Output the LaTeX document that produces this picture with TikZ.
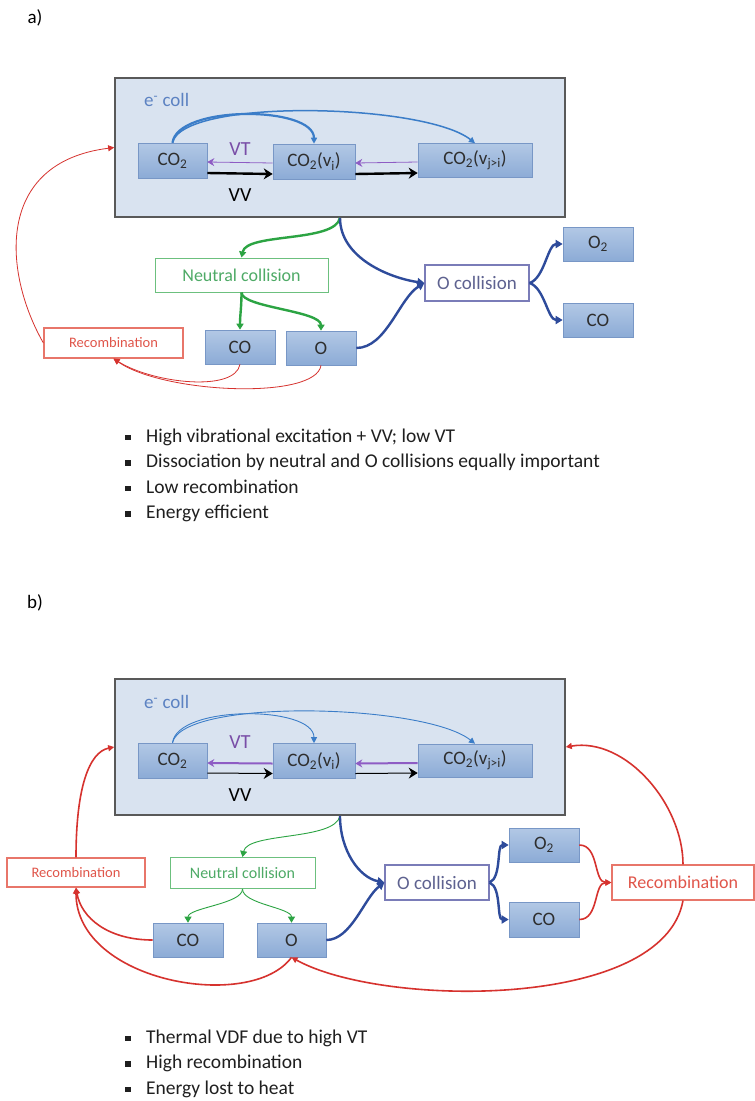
\documentclass[tikz,border=0pt]{standalone}
\usepackage{fontspec}
\setmainfont{Carlito}
\usepackage{xcolor}
\usepackage{tikz}
\usetikzlibrary{arrows.meta}
\usetikzlibrary{calc}
\usetikzlibrary{positioning}

\definecolor{chamberfill}{HTML}{D9E3F0}
\definecolor{chamberline}{HTML}{595959}
\definecolor{speciestop}{HTML}{B2C8E5}
\definecolor{speciesbot}{HTML}{8CABD6}
\definecolor{speciesline}{HTML}{7897C6}
\definecolor{ecollblue}{HTML}{3B7DC8}
\definecolor{ecolltext}{HTML}{5C82C2}
\definecolor{vtpurple}{HTML}{8E5CC4}
\definecolor{neutgreen}{HTML}{2CA443}
\definecolor{neuttext}{HTML}{4EAA66}
\definecolor{neutline}{HTML}{6CC07E}
\definecolor{ocollblue}{HTML}{2E4B9B}
\definecolor{ocolltext}{HTML}{5E6290}
\definecolor{ocollline}{HTML}{7A7CB8}
\definecolor{recred}{HTML}{D6322E}
\definecolor{rectext}{HTML}{E0554A}
\definecolor{recline}{HTML}{E8766A}

\newcommand{\fsz}[1]{\fontsize{#1}{#1}\selectfont}
\newcommand{\itembullet}{\makebox[21pt][l]{\rule[1.8pt]{5.5pt}{5.5pt}}}

\tikzset{
  chamber/.style={draw=chamberline, line width=1.6pt, fill=chamberfill, minimum width=450pt, inner sep=0pt},
  species/.style={draw=speciesline, line width=0.6pt, top color=speciestop, bottom color=speciesbot,
    text=black!82, minimum height=35pt, inner sep=0pt, font=\fsz{19}},
  neutbox/.style={draw=neutline, line width=1pt, fill=white, text=neuttext, inner sep=0pt},
  ocollbox/.style={draw=ocollline, line width=1.2pt, fill=white, text=ocolltext, inner sep=0pt, font=\fsz{19}},
  recbox/.style={draw=recline, line width=1.2pt, fill=white, text=rectext, inner sep=0pt},
  ecolllabel/.style={text=ecolltext, inner sep=0pt, font=\fsz{19}},
  vtlabel/.style={text=vtpurple!85!black, inner sep=0pt, font=\fsz{20}},
  vvlabel/.style={text=black, inner sep=0pt, font=\fsz{20}},
  panellabel/.style={inner sep=0pt, font=\fsz{19}},
  listtext/.style={inner sep=0pt, text=black!88, font=\fsz{19.5}},
  ecollarc/.style={draw=ecollblue, -{Triangle[length=6pt,width=6pt]}},
  vtarrow/.style={draw=vtpurple, -{Stealth[length=7pt,width=8pt]}},
  vvarrow/.style={draw=black, -{Stealth[length=9pt,width=11pt]}},
  neutarrow/.style={draw=neutgreen, -{Triangle[length=6pt,width=7pt]}},
  ocollarrow/.style={draw=ocollblue, line width=2.4pt, -{Triangle[length=7pt,width=8pt]}},
  recarrow/.style={draw=recred, -{Triangle[length=6pt,width=6pt]}}
}

\begin{document}
\begin{tikzpicture}[x=1pt,y=-1pt]
  \useasboundingbox[fill=white] (0,0) rectangle (755,1101);

  % a) low VT regime
  \node[panellabel] (labA) at (35,18) {a)};
  \node[chamber, minimum height=139pt] (chamberA) at (340,147.5) {};
  \node[ecolllabel, anchor=west] (ecollA) at (144,100) {e\textsuperscript{-} coll};
  \node[species, minimum width=69pt] (co2A) at (172.5,160.5) {CO\textsubscript{2}};
  \node[species, minimum width=82pt] (co2viA) at (314,161.5) {CO\textsubscript{2}(v\textsubscript{i})};
  \node[species, minimum width=114pt, minimum height=34pt] (co2vjA) at (475,160.5) {CO\textsubscript{2}(v\textsubscript{j>i})};
  \node[vtlabel] (vtA) at (240,149) {VT};
  \node[vvlabel] (vvA) at (240,195) {VV};
  \node[neutbox, minimum width=173pt, minimum height=34pt, font=\fsz{18}] (neutA) at (241.5,275) {Neutral collision};
  \node[recbox, minimum width=139pt, minimum height=30pt, font=\fsz{14.5}] (recA) at (113.5,343) {Recombination};
  \node[species, minimum width=70pt, minimum height=34pt] (coA) at (240,347) {CO};
  \node[species, minimum width=70pt, minimum height=34pt] (oA) at (321,348) {O};
  \node[ocollbox, minimum width=104pt, minimum height=36pt] (ocollA) at (477,283) {O collision};
  \node[species, minimum width=70pt, minimum height=34pt] (o2A) at (598,244) {O\textsubscript{2}};
  \node[species, minimum width=70pt, minimum height=34pt] (coRA) at (598,320) {CO};

  \draw[ecollarc, line width=2.2pt] (co2A.north) .. controls +(5,-38) and +(0,-38) .. (co2viA.north);
  \draw[ecollarc, line width=1.5pt] (co2A.north) .. controls +(10,-45) and +(-50,-40) .. (co2vjA.north);
  \draw[vtarrow, line width=0.8pt] ([yshift=-1.5pt]co2viA.west) -- ([yshift=-1.5pt]co2A.east);
  \draw[vtarrow, line width=0.8pt] ([yshift=-1.5pt]co2vjA.west) -- ([yshift=-1.5pt]co2viA.east);
  \draw[vvarrow, line width=2.4pt] ([yshift=-12.5pt]co2A.east) -- ([yshift=-12.5pt]co2viA.west);
  \draw[vvarrow, line width=2.4pt] ([yshift=-12.5pt]co2viA.east) -- ([yshift=-12.5pt]co2vjA.west);

  \draw[neutarrow, line width=2.4pt] (chamberA.south) .. controls +(-5,25) and +(5,-25) .. (neutA.north);
  \draw[neutarrow, line width=2.4pt] (neutA.south) .. controls +(0,15) and +(0,-15) .. (coA.north);
  \draw[neutarrow, line width=2.4pt] (neutA.south) .. controls +(0,15) and +(0,-20) .. (oA.north);
  \draw[ocollarrow] (chamberA.south) .. controls +(0,40) and +(-35,-5) .. (ocollA.west);
  \draw[ocollarrow] (oA.east) .. controls +(30,0) and +(-25,15) .. (ocollA.west);
  \draw[ocollarrow] (ocollA.east) .. controls +(15,-5) and +(-15,0) .. (o2A.west);
  \draw[ocollarrow] (ocollA.east) .. controls +(15,5) and +(-15,0) .. (coRA.west);

  \draw[recarrow, line width=0.8pt] (recA.west) .. controls +(-40,-70) and +(-120,15) .. (chamberA.west);
  \draw[recarrow, line width=0.8pt] (coA.south) .. controls +(-5,28) and +(40,25) .. (recA.south);
  \draw[recarrow, line width=0.8pt] (oA.south) .. controls +(-5,35) and +(50,35) .. (recA.south);

  \node[listtext, anchor=base west] (itemA1) at (125,442) {\itembullet High vibrational excitation + VV; low VT};
  \node[listtext, anchor=base west] (itemA2) at (125,467.5) {\itembullet Dissociation by neutral and O collisions equally important};
  \node[listtext, anchor=base west] (itemA3) at (125,493) {\itembullet Low recombination};
  \node[listtext, anchor=base west] (itemA4) at (125,518.5) {\itembullet Energy efficient};

  % b) high VT regime
  \node[panellabel] (labB) at (35,603) {b)};
  \node[chamber, minimum height=136pt] (chamberB) at (340,747) {};
  \node[ecolllabel, anchor=west] (ecollB) at (144,702) {e\textsuperscript{-} coll};
  \node[species, minimum width=69pt] (co2B) at (172.5,760.5) {CO\textsubscript{2}};
  \node[species, minimum width=82pt] (co2viB) at (314,761) {CO\textsubscript{2}(v\textsubscript{i})};
  \node[species, minimum width=114pt, minimum height=33pt] (co2vjB) at (475,760.5) {CO\textsubscript{2}(v\textsubscript{j>i})};
  \node[vtlabel] (vtB) at (240,742) {VT};
  \node[vvlabel] (vvB) at (240,795) {VV};
  \node[recbox, minimum width=138pt, minimum height=29pt, font=\fsz{14.5}] (recLB) at (76,872.5) {Recombination};
  \node[neutbox, minimum width=145pt, minimum height=31pt, font=\fsz{16}] (neutB) at (242.5,873) {Neutral collision};
  \node[species, minimum width=70pt, minimum height=34pt] (coB) at (188,940) {CO};
  \node[species, minimum width=69pt, minimum height=34pt] (oB) at (291.5,940) {O};
  \node[ocollbox, minimum width=104pt, minimum height=35pt] (ocollB) at (437,882.5) {O collision};
  \node[species, minimum width=70pt, minimum height=34pt] (o2B) at (544,845) {O\textsubscript{2}};
  \node[species, minimum width=70pt, minimum height=35pt] (coRB) at (544,919.5) {CO};
  \node[recbox, minimum width=142pt, minimum height=35pt, font=\fsz{18}] (recRB) at (683,882.5) {Recombination};

  \draw[ecollarc, line width=0.9pt] (co2B.north) .. controls +(5,-38) and +(0,-38) .. (co2viB.north);
  \draw[ecollarc, line width=0.9pt] (co2B.north) .. controls +(10,-45) and +(-50,-40) .. (co2vjB.north);
  \draw[vtarrow, line width=2pt] ([yshift=-2.5pt]co2viB.west) -- ([yshift=-2.5pt]co2B.east);
  \draw[vtarrow, line width=2pt] ([yshift=-2.5pt]co2vjB.west) -- ([yshift=-2.5pt]co2viB.east);
  \draw[vvarrow, line width=1pt] ([yshift=-12.5pt]co2B.east) -- ([yshift=-12.5pt]co2viB.west);
  \draw[vvarrow, line width=1pt] ([yshift=-12.5pt]co2viB.east) -- ([yshift=-12.5pt]co2vjB.west);

  \draw[neutarrow, line width=0.9pt] (chamberB.south) .. controls +(-5,25) and +(5,-25) .. (neutB.north);
  \draw[neutarrow, line width=0.9pt] (neutB.south) .. controls +(0,15) and +(0,-15) .. (coB.north);
  \draw[neutarrow, line width=0.9pt] (neutB.south) .. controls +(0,15) and +(0,-15) .. (oB.north);
  \draw[ocollarrow] (chamberB.south) .. controls +(0,35) and +(-25,-5) .. (ocollB.west);
  \draw[ocollarrow] (oB.east) .. controls +(25,0) and +(-20,15) .. (ocollB.west);
  \draw[ocollarrow] (ocollB.east) .. controls +(12,-5) and +(-12,0) .. (o2B.west);
  \draw[ocollarrow] (ocollB.east) .. controls +(12,5) and +(-12,0) .. (coRB.west);

  \draw[recarrow, line width=1.6pt] (recLB.north) .. controls +(0,-70) and +(-25,5) .. (chamberB.west);
  \draw[recarrow, line width=1.6pt] (recRB.north) .. controls +(0,-60) and +(60,-10) .. (chamberB.east);
  \draw[recarrow, line width=1.6pt] (o2B.east) .. controls +(20,0) and +(-18,0) .. (recRB.west);
  \draw[recarrow, line width=1.6pt] (coRB.east) .. controls +(20,0) and +(-18,0) .. (recRB.west);
  \draw[recarrow, line width=1.6pt] (coB.west) .. controls +(-45,0) and +(5,30) .. (recLB.south);
  \draw[recarrow, line width=1.6pt] (oB.south) .. controls +(-40,55) and +(0,95) .. (recLB.south);
  \draw[recarrow, line width=1.6pt] (recRB.south) .. controls +(-20,110) and +(90,50) .. (oB.south);

  \node[listtext, anchor=base west] (itemB1) at (125,1043) {\itembullet Thermal VDF due to high VT};
  \node[listtext, anchor=base west] (itemB2) at (125,1068.5) {\itembullet High recombination};
  \node[listtext, anchor=base west] (itemB3) at (125,1094) {\itembullet Energy lost to heat};
\end{tikzpicture}
\end{document}
